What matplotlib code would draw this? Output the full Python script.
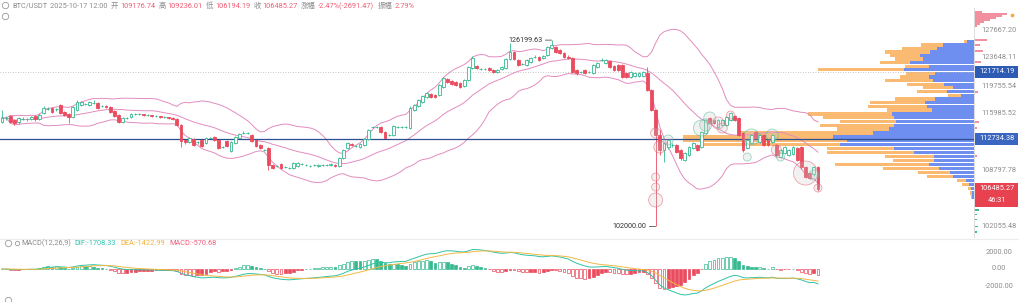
import numpy as np
import pandas as pd
import matplotlib
matplotlib.use("Agg")
import matplotlib.pyplot as plt
from matplotlib.patches import Rectangle, Circle
from matplotlib.ticker import NullLocator

plt.rcParams['font.family'] = ['Roboto', 'Noto Sans CJK SC', 'DejaVu Sans']

symbol = "BTC/USDT"
bar_time = "2025-10-17 12:00"
countdown = "46:31"

# 4h candles
opens = [
    114930, 115460, 115720, 115190, 114930, 115320, 115320, 115320, 115720, 115320,
    116120, 116650, 116780, 116650, 117180, 116250, 115990, 115590, 116520, 117180,
    117320, 117180, 117450, 117450, 117050, 117050, 116920, 116380, 115850, 114930,
    115460, 115590, 115990, 115990, 115990, 115850, 115850, 115720, 115720, 115590,
    115590, 115460, 115320, 114540, 112590, 112330, 112720, 112330, 112590, 112200,
    112850, 112980, 112590, 111690, 112460, 111180, 112200, 112850, 113490, 113490,
    113230, 112590, 111950, 111310, 111570, 109420, 109290, 109540, 109170, 109050,
    109050, 109290, 109540, 109420, 109290, 109420, 109290, 109420, 109420, 109420,
    109420, 109290, 110300, 111570, 112080, 111820, 111690, 111950, 112720, 114270,
    114270, 114270, 113620, 113230, 113230, 114270, 114270, 114270, 114140, 116520,
    117050, 117590, 118260, 118670, 118530, 118530, 119620, 120720, 120440, 120300,
    120170, 119760, 120580, 122240, 122520, 122100, 122100, 122240, 121960, 121690,
    122100, 122240, 123510, 124500, 123370, 122800, 122660, 123090, 123790, 123790,
    123650, 124070, 125070, 125210, 124780, 124360, 123790, 123650, 121960, 121690,
    121960, 121690, 121550, 122380, 123370, 122940, 123230, 122520, 122660, 122660,
    121550, 120990, 121130, 121130, 121130, 121550, 119210, 116520, 113230, 111310,
    111690, 111950, 111950, 111310, 110050, 110680, 111570, 111950, 111690, 113490,
    115460, 115190, 114270, 114540, 114540, 115190, 115720, 115460, 113490, 111570,
    112200, 113620, 112330, 113230, 112590, 112330, 111950, 110420, 110930, 110680,
    110800, 111570, 111690, 109170, 108420, 108300, 109176.74,
]
highs = [
    116520, 115720, 115850, 115320, 115590, 115590, 115460, 115720, 115850, 116120,
    117050, 116920, 116920, 116780, 117320, 116380, 116120, 117050, 117860, 117720,
    117450, 117720, 117860, 117590, 117180, 117180, 117050, 116520, 115990, 115590,
    115590, 116120, 116120, 116120, 115990, 115990, 115850, 115850, 115720, 115720,
    115590, 115590, 115460, 114670, 112720, 112980, 112850, 112460, 112720, 112980,
    112980, 113110, 112720, 111820, 112590, 112460, 113110, 113490, 113750, 113620,
    113360, 112720, 112080, 111440, 111690, 109540, 109420, 109670, 109290, 109170,
    109800, 109800, 109670, 109540, 109420, 109540, 109540, 109540, 109540, 109670,
    109540, 110420, 111440, 112330, 112200, 111950, 112200, 112850, 114010, 114410,
    114410, 114410, 113750, 113360, 114540, 114410, 114410, 114410, 117050, 117320,
    117990, 118530, 118940, 118800, 118670, 120030, 120990, 120860, 120580, 120440,
    120300, 120720, 122520, 123930, 122660, 122240, 122240, 122380, 122100, 122100,
    122520, 123650, 125790, 124640, 123510, 122940, 123510, 123790, 124070, 123930,
    124070, 125360, 126199.63, 125360, 124930, 124500, 124070, 123790, 122100, 121830,
    122100, 121830, 122800, 123090, 123650, 123510, 123370, 122660, 122800, 122800,
    121690, 121830, 121690, 121690, 121830, 122380, 119350, 116650, 113880, 112330,
    112720, 112200, 112080, 111440, 111060, 111820, 112330, 112080, 113750, 115320,
    115590, 115320, 115320, 115320, 115720, 116250, 115850, 115590, 113620, 112720,
    113360, 113750, 113360, 113360, 112720, 113360, 112080, 111440, 111820, 111440,
    111820, 111690, 111820, 109290, 108550, 109290, 109236.01,
]
lows = [
    114800, 115190, 114800, 114540, 114670, 115190, 115060, 115190, 115060, 115190,
    115990, 116520, 116120, 116380, 115990, 115720, 114800, 115460, 116380, 117050,
    117180, 117050, 117320, 116650, 116920, 116780, 116120, 115590, 114800, 114800,
    115320, 115460, 115850, 115850, 115720, 115720, 115590, 115590, 115460, 115460,
    115320, 115190, 114410, 111690, 112080, 112200, 111820, 112080, 111690, 112080,
    112720, 112460, 111440, 111570, 111690, 111060, 112080, 112720, 113360, 113360,
    112330, 111690, 111440, 111180, 108800, 108920, 109170, 108920, 109050, 108920,
    108920, 109170, 109420, 109290, 109170, 109290, 109170, 109290, 109290, 109290,
    109170, 109170, 110170, 111440, 111820, 111690, 111570, 111820, 112590, 114140,
    114140, 113490, 112720, 113110, 113110, 114140, 114140, 114140, 114010, 116380,
    116920, 117450, 118130, 118130, 118130, 118400, 119480, 120170, 119890, 119760,
    119480, 119620, 120440, 122100, 122100, 121960, 121960, 121830, 121550, 121550,
    121960, 122100, 123370, 123370, 122520, 122660, 122520, 122940, 123650, 123230,
    123510, 123930, 124930, 124360, 124220, 123650, 123510, 121550, 121270, 121550,
    121410, 121550, 121410, 122240, 123230, 122800, 122240, 121830, 121830, 120860,
    120860, 120860, 120990, 120990, 120990, 119070, 116380, 102000, 110680, 109800,
    111440, 111690, 110930, 110050, 109920, 110550, 111440, 111180, 111570, 113360,
    114670, 114670, 114140, 114410, 114410, 115060, 115060, 113110, 111060, 111440,
    112080, 112720, 112200, 111820, 111820, 112200, 110550, 110300, 110800, 110550,
    110680, 109920, 108920, 107810, 107680, 108050, 106194.19,
]
closes = [
    115460, 115460, 114930, 114800, 115460, 115320, 115320, 115590, 115320, 115850,
    116780, 116650, 116250, 116650, 116120, 115850, 115590, 116920, 117590, 117590,
    117320, 117590, 117450, 116780, 117050, 116920, 116250, 115720, 114930, 115460,
    115460, 115990, 115990, 115990, 115850, 115850, 115720, 115720, 115590, 115590,
    115460, 115320, 114540, 112460, 112330, 112850, 111950, 112330, 111820, 112850,
    112850, 112590, 111570, 111690, 111820, 112330, 112980, 113360, 113490, 113490,
    112460, 111820, 111570, 111310, 109420, 109050, 109290, 109050, 109170, 109050,
    109670, 109670, 109540, 109420, 109290, 109420, 109420, 109420, 109420, 109540,
    109290, 110300, 111310, 112200, 111950, 111820, 112080, 112720, 113880, 114270,
    114270, 113620, 112850, 113230, 114410, 114270, 114270, 114270, 116780, 117180,
    117860, 118400, 118800, 118260, 118260, 119890, 120860, 120300, 120030, 119890,
    119620, 120580, 122380, 123650, 122240, 122100, 122100, 121960, 121690, 121960,
    122380, 123510, 124500, 123510, 122660, 122800, 123370, 123650, 123790, 123370,
    123930, 125210, 125500, 124500, 124360, 123790, 123650, 121690, 121550, 121690,
    121550, 121690, 122660, 122940, 123370, 123370, 122380, 121960, 121960, 120990,
    120990, 121690, 121550, 121550, 121690, 119210, 116520, 113230, 111310, 112200,
    112590, 111950, 111060, 110300, 110930, 111690, 112200, 111310, 113620, 115190,
    114800, 114800, 115190, 115190, 115590, 116120, 115190, 113230, 111310, 112590,
    113230, 112850, 113230, 111950, 111950, 113230, 110680, 111310, 111690, 111310,
    111690, 110050, 109170, 107930, 107810, 109170, 106485.27,
]

# reference levels and axis labels
level_dotted = 121714.19
level_poc = 112734.38
price_ticks = [127667.20, 123648.11, 119755.54, 115985.52, 108797.78, 102055.48]
macd_ticks = [2000, 0, -2000]
macd_readout = {"DIF": -1708.33, "DEA": -1422.99, "MACD": -570.68}

# volume profile (price bin, buy volume, sell volume)
vp_prices = [126000, 125500, 125000, 124500, 124000, 123500, 123000, 122500, 122000, 121500,
             121000, 120500, 120000, 119500, 119000, 118500, 118000, 117500, 117000, 116500,
             116000, 115500, 115000, 114500, 114000, 113500, 113000, 112500, 112000, 111500,
             111000, 110500, 110000, 109500, 109000, 108500, 108000, 107500, 107000, 106500,
             106000, 105500]
vp_buy = [7, 31, 37, 44, 54, 51, 64, 45, 70, 39, 45, 41, 30, 21, 27, 13, 39, 49, 47, 42,
          82, 80, 78, 80, 85, 101, 141, 127, 134, 80, 60, 40, 40, 45, 35, 24, 21, 8, 5, 3, 2, 2]
vp_sell = [3, 22, 35, 45, 30, 28, 30, 24, 86, 29, 29, 48, 37, 30, 30, 13, 40, 55, 59, 45,
           84, 71, 56, 74, 52, 133, 150, 164, 140, 67, 87, 49, 41, 94, 56, 32, 26, 9, 7, 3, 2, 1]

# liquidation bubbles (candle index, price, amount, side)
bubble_idx = [157, 157, 157, 157, 158, 160, 168, 169, 170, 172, 173, 175, 179, 180, 185, 186, 187, 193, 195, 196]
bubble_price = [107930, 106700, 105130, 113490, 111690, 112590, 114140, 114540, 115460, 114800,
                114140, 115850, 110420, 112980, 113230, 111310, 110420, 108420, 108180, 106580]
bubble_amount = [16, 16, 49, 25, 36, 25, 64, 36, 36, 36, 25, 16, 16, 64, 36, 25, 16, 144, 25, 16]
bubble_side = ['s', 's', 's', 's', 's', 'l', 'l', 'l', 'l', 's', 's', 's', 'l', 'l', 'l', 's', 'l', 's', 'l', 's']

# liquidation map at the right of the price axis
liq_up_prices = [130320, 130020, 129730, 129430, 129130, 128840, 128540, 128250,
                 126220, 125500, 124640, 123090, 118940, 114930, 114140, 110550]
liq_up_sizes = [8, 33, 28, 22, 16, 10, 6, 3, 13, 6, 9, 7, 4, 5, 3, 3]
liq_dn_prices = [105130, 104410, 103940, 103460, 102870, 102050, 101360]
liq_dn_sizes = [3, 4, 5, 3, 3, 4, 3]

RED = '#ea4b5f'
GREEN = '#35b98f'
GRAY = '#8c8c8c'
BB = '#e28cbf'

W, H = 1020, 302
fig = plt.figure(figsize=(W / 100, H / 100), dpi=100)


def frame(x0, y0, x1, y1):
    return [x0 / W, 1 - y1 / H, (x1 - x0) / W, (y1 - y0) / H]


AXR = 974
ax = fig.add_axes(frame(0, 8, AXR, 237))
axm = fig.add_axes(frame(0, 240, AXR, 296))
ax_r = fig.add_axes(frame(AXR, 8, W, 237))
ov = fig.add_axes([0, 0, 1, 1])

n = len(closes)
x = np.arange(n)
o, h, l, c = (np.array(v, dtype=float) for v in (opens, highs, lows, closes))

# log price scale placed so the axis labels land where the chart has them
k = (226 - 30) / np.log(price_ticks[0] / price_ticks[-1])
ax.set_yscale('log')
ylo = price_ticks[0] * np.exp(-(237 - 30) / k)
yhi = price_ticks[0] * np.exp((30 - 8) / k)
step = (818 - 2) / (n - 1)
xlim = (-2 / step, (AXR - 2) / step)

# volume profile behind the candles
ax_vp = ax.twiny()
ax_vp.set_xlim(AXR, 0)
vp_tot = np.array(vp_buy) + np.array(vp_sell)
ax_vp.barh(vp_prices, vp_tot, height=440, color='#fbba72', lw=0)
ax_vp.barh(vp_prices, vp_buy, height=440, color='#6f8ff0', lw=0)
ax_vp.axis('off')
ax.set_zorder(2)
ax_vp.set_zorder(1)
ax.patch.set_visible(False)

# bollinger bands
s = pd.Series(c)
mid = s.rolling(20, min_periods=1).mean()
sd = s.rolling(20, min_periods=1).std(ddof=0)
for band in (mid + 2 * sd, mid, mid - 2 * sd):
    ax.plot(x, band, color=BB, lw=0.7, zorder=2)

# candles
col = np.where(c >= o, GREEN, RED)
ax.vlines(x, l, h, colors=col, lw=0.6, zorder=3)
body = np.maximum(np.abs(c - o), 25)
ax.bar(x, body, bottom=np.minimum(o, c), width=0.68,
       color=np.where(c >= o, 'white', RED), edgecolor=col, lw=0.6, zorder=4)

# liquidation bubbles
bub_col = np.where(np.array(bubble_side) == 'l', GREEN, RED)
ax.scatter(bubble_idx, bubble_price, s=np.array(bubble_amount) * 2.07,
           facecolors='none', edgecolors=bub_col, lw=0.6, alpha=0.55, zorder=5)
ax.scatter(bubble_idx, bubble_price, s=np.array(bubble_amount) * 2.07,
           color='#c9c9c9', alpha=0.25, lw=0, zorder=5)

ax.axhline(level_poc, color='#2d4f8e', lw=0.9, zorder=3)
ax.axhline(level_dotted, color='#b5b5b5', lw=0.6, ls=(0, (1, 2)), zorder=3)

# extreme annotations
i_hi = int(np.argmax(h))
i_lo = int(np.argmin(l))
for i, p in ((i_hi, h[i_hi]), (i_lo, l[i_lo])):
    ax.annotate(f"{p:.2f}", xy=(i, p), xytext=(-9, 0), textcoords='offset pixels',
                ha='right', va='center', fontsize=5.2, color='#333333', zorder=6,
                arrowprops=dict(arrowstyle='-', color='#555555', lw=0.6, shrinkA=0, shrinkB=0))

ax.set_xlim(*xlim)
ax.set_ylim(ylo, yhi)
ax.set_xticks([])
ax.yaxis.set_major_locator(NullLocator())
ax.yaxis.set_minor_locator(NullLocator())
for sp in ('top', 'left', 'bottom'):
    ax.spines[sp].set_visible(False)
ax.spines['right'].set_color('#dcdcdc')
ax.spines['right'].set_linewidth(0.7)

# liquidation map on the right
ax_r.set_yscale('log')
ax_r.set_ylim(ylo, yhi)
ax_r.set_xlim(0, W - AXR)
ax_r.barh(liq_up_prices, liq_up_sizes, height=np.array(liq_up_prices) * 0.0018,
          color='#f07d8e', alpha=0.85, lw=0)
ax_r.barh(liq_dn_prices, liq_dn_sizes, height=np.array(liq_dn_prices) * 0.0012,
          color='#3dbb8e', lw=0)
ax_r.axis('off')

# MACD panel
ema12 = s.ewm(span=12, adjust=False).mean()
ema26 = s.ewm(span=26, adjust=False).mean()
dif = ema12 - ema26
dea = dif.ewm(span=9, adjust=False).mean()
hist = 2 * (dif - dea)
grow = hist.abs() >= hist.abs().shift(1).fillna(0)
hcol = np.where(hist >= 0, GREEN, RED)
hface = np.where(grow, 'white', hcol)
axm.bar(x, hist, width=0.68, color=hface, edgecolor=hcol, lw=0.5)
axm.plot(x, dif, color='#2fc3a6', lw=0.7)
axm.plot(x, dea, color='#f2b844', lw=0.7)
axm.set_xlim(*xlim)
axm.set_ylim(-2000 * 27 / 17, 2000 * 29 / 17)
axm.axis('off')

# overlay in pixel coordinates
ov.set_xlim(0, W)
ov.set_ylim(H, 0)
ov.axis('off')
ov.set_zorder(10)


def ypx(a, v):
    return H - a.transData.transform((0, v))[1]


ov.plot([0, W], [238.5, 238.5], color='#ececec', lw=0.8)
for p in price_ticks:
    ov.text(999, ypx(ax, p), f"{p:.2f}", ha='center', va='center', fontsize=5.3, color=GRAY)
for v in macd_ticks:
    ov.text(999, ypx(axm, v), f"{v:.2f}", ha='center', va='center', fontsize=5.3, color=GRAY)

boxes = [(ypx(ax, level_dotted), f"{level_dotted:.2f}", '#2d5bb3'),
         (ypx(ax, level_poc), f"{level_poc:.2f}", '#3a66c1'),
         (ypx(ax, c[-1]), f"{c[-1]:.2f}", '#e8414f')]
boxes.append((boxes[-1][0] + 12, countdown, '#e8414f'))
for yb, txt, fc in boxes:
    ov.add_patch(Rectangle((975, yb - 6), 43, 12, color=fc, lw=0))
    ov.text(996.5, yb, txt, ha='center', va='center', fontsize=5.3, color='white')
ov.scatter([1012], [15], s=7, color='#f5a83a', lw=0)

# header row
for cy in (5.5, 16.5):
    ov.add_patch(Circle((5.5, cy), 3.2, fill=False, ec='#9a9a9a', lw=0.6))
chg = c[-1] - o[-1]
amp = (h[-1] - l[-1]) / o[-1] * 100
vc = '#ef5d74'
header = [(symbol, GRAY, 3), (bar_time, GRAY, 3), ("开", GRAY, 2), (f"{o[-1]:.2f}", vc, 3),
          ("高", GRAY, 2), (f"{h[-1]:.2f}", vc, 3), ("低", GRAY, 2), (f"{l[-1]:.2f}", vc, 3),
          ("收", GRAY, 2), (f"{c[-1]:.2f}", vc, 3), ("涨幅", GRAY, 2),
          (f"{chg / o[-1] * 100:.2f}%({chg:.2f})", vc, 4), ("振幅", GRAY, 2), (f"{amp:.2f}%", vc, 3)]

renderer = fig.canvas.get_renderer()


def flow(x0, y0, parts):
    xc = x0
    for txt, color, gap in parts:
        t = ov.text(xc, y0, txt, ha='left', va='center', fontsize=5.3, color=color)
        bb = t.get_window_extent(renderer)
        xc += bb.width + gap


flow(12, 6.5, header)

ov.add_patch(Circle((8.5, 243.5), 3.2, fill=False, ec='#9a9a9a', lw=0.6))
ov.add_patch(Circle((17.5, 243.5), 2.2, fill=False, ec='#9a9a9a', lw=0.6))
flow(21, 243.5, [("MACD(12,26,9)", GRAY, 4),
                 (f"DIF:{macd_readout['DIF']:.2f}", '#36c2b0', 4),
                 (f"DEA:{macd_readout['DEA']:.2f}", '#f2b33d', 4),
                 (f"MACD:{macd_readout['MACD']:.2f}", '#f0607e', 4)])
ov.add_patch(Circle((8.5, 300.5), 3.2, fill=False, ec='#9a9a9a', lw=0.6))

fig.savefig("out.png", dpi=100)
